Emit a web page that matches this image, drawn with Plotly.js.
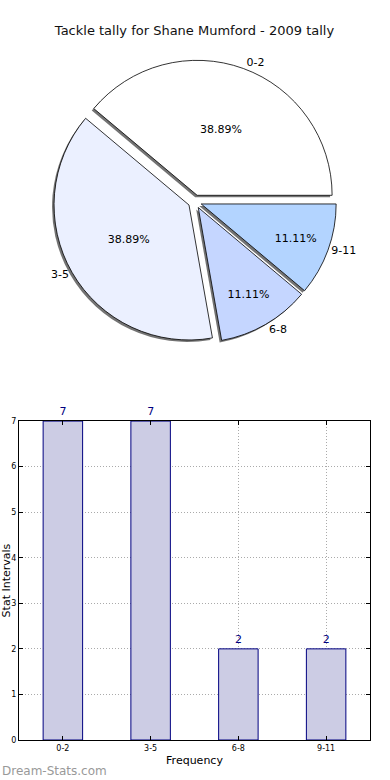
<!DOCTYPE html>
<html><head><meta charset="utf-8">
<script src="https://cdn.plot.ly/plotly-3.0.1.min.js"></script>
<style>html,body{margin:0;padding:0;background:#fff}</style>
</head><body>
<div id="chart" style="width:390px;height:780px"></div>
<script>
const categories = ['0-2', '3-5', '6-8', '9-11'];
const counts = [7, 7, 2, 2];
const sliceColors = ['#ffffff', '#ebf0ff', '#c5d6ff', '#b3d4ff'];
const chartTitle = 'Tackle tally for Shane Mumford - 2009 tally';
const xTitle = 'Frequency';
const yTitle = 'Stat Intervals';
const watermark = 'Dream-Stats.com';

const W = 390, H = 780, L = 19, R = 20, T = 0, B = 40;
const gw = W - L - R, gh = H - T - B;
const pieDomX = [0.097, 0.905], pieDomY = [0.536, 0.919];
const pull = categories.map(() => 0.05);
const font = 'DejaVu Sans, sans-serif';
// Plotly lays the first counterclockwise slice clockwise of `rotation`;
// start it at 3 o'clock like the reference
const total = counts.reduce((a, b) => a + b, 0);
const rot = 90 - 360 * counts[0] / total;

const shadow = {
  type: 'pie', labels: categories, values: counts, sort: false,
  direction: 'counterclockwise', rotation: rot, pull: pull,
  domain: {x: [pieDomX[0] - 2/gw, pieDomX[1] - 2/gw], y: [pieDomY[0] - 2/gh, pieDomY[1] - 2/gh]},
  marker: {colors: categories.map(() => 'rgba(80,80,80,0.8)'), line: {width: 0}},
  textinfo: 'none', hoverinfo: 'skip', showlegend: false
};
const pieMain = {
  type: 'pie', labels: categories, values: counts, sort: false,
  direction: 'counterclockwise', rotation: rot, pull: pull,
  domain: {x: pieDomX, y: pieDomY},
  marker: {colors: sliceColors, line: {color: '#000', width: 0.8}},
  texttemplate: '%{percent:.2%}', textposition: 'inside',
  insidetextorientation: 'horizontal',
  textfont: {family: font, size: 11, color: '#000'},
  showlegend: false
};
const pieLabels = {
  type: 'pie', labels: categories, values: counts, sort: false,
  direction: 'counterclockwise', rotation: rot, pull: pull,
  domain: {x: pieDomX, y: pieDomY},
  marker: {colors: categories.map(() => 'rgba(0,0,0,0)'), line: {width: 0}},
  texttemplate: '%{label}', textposition: 'outside',
  outsidetextfont: {family: font, size: 11, color: '#000'},
  hoverinfo: 'skip', showlegend: false
};
const bars = {
  type: 'bar', x: categories, y: counts, width: 0.45,
  marker: {color: '#ccccE4', line: {color: '#000080', width: 1}},
  text: counts.map(String), textposition: 'outside', cliponaxis: false,
  textfont: {family: font, size: 11, color: '#000080'},
  xaxis: 'x', yaxis: 'y', showlegend: false
};

const layout = {
  width: W, height: H,
  margin: {l: L, r: R, t: T, b: B},
  paper_bgcolor: '#fff', plot_bgcolor: '#fff',
  font: {family: font, color: '#000'},
  title: {text: chartTitle, font: {family: font, size: 13, color: '#111'},
          x: 0.5, xanchor: 'center', xref: 'paper', y: 1 - 30/H, yref: 'container', yanchor: 'middle'},
  xaxis: {
    type: 'category', range: [-0.5, 3.5], domain: [0, 1],
    showline: true, linecolor: '#000', linewidth: 1, mirror: 'ticks',
    ticks: 'inside', ticklen: 4, tickcolor: '#000',
    showgrid: true, gridcolor: '#aaaaaa', griddash: '1px,2px', gridwidth: 1,
    tickfont: {family: font, size: 8, color: '#000'},
    title: {text: xTitle, font: {family: font, size: 11, color: '#000'}, standoff: 4},
    automargin: false, zeroline: false, fixedrange: true
  },
  yaxis: {
    range: [0, 7], dtick: 1, domain: [0, 0.431],
    showline: true, linecolor: '#000', linewidth: 1, mirror: 'ticks',
    ticks: 'inside', ticklen: 4, tickcolor: '#000',
    showgrid: true, gridcolor: '#aaaaaa', griddash: '1px,2px', gridwidth: 1,
    tickfont: {family: font, size: 8, color: '#000'},
    title: {text: yTitle, font: {family: font, size: 11, color: '#000'}, standoff: 0},
    automargin: false, zeroline: false, fixedrange: true
  },
  annotations: [{
    text: watermark, xref: 'paper', yref: 'paper',
    x: -L/gw, xanchor: 'left', y: (gh - 771 + T)/gh, yanchor: 'middle',
    showarrow: false, font: {family: font, size: 12, color: '#999'}
  }]
};

Plotly.newPlot('chart', [bars, shadow, pieMain, pieLabels], layout, {displayModeBar: false, staticPlot: true});
</script>
</body></html>
